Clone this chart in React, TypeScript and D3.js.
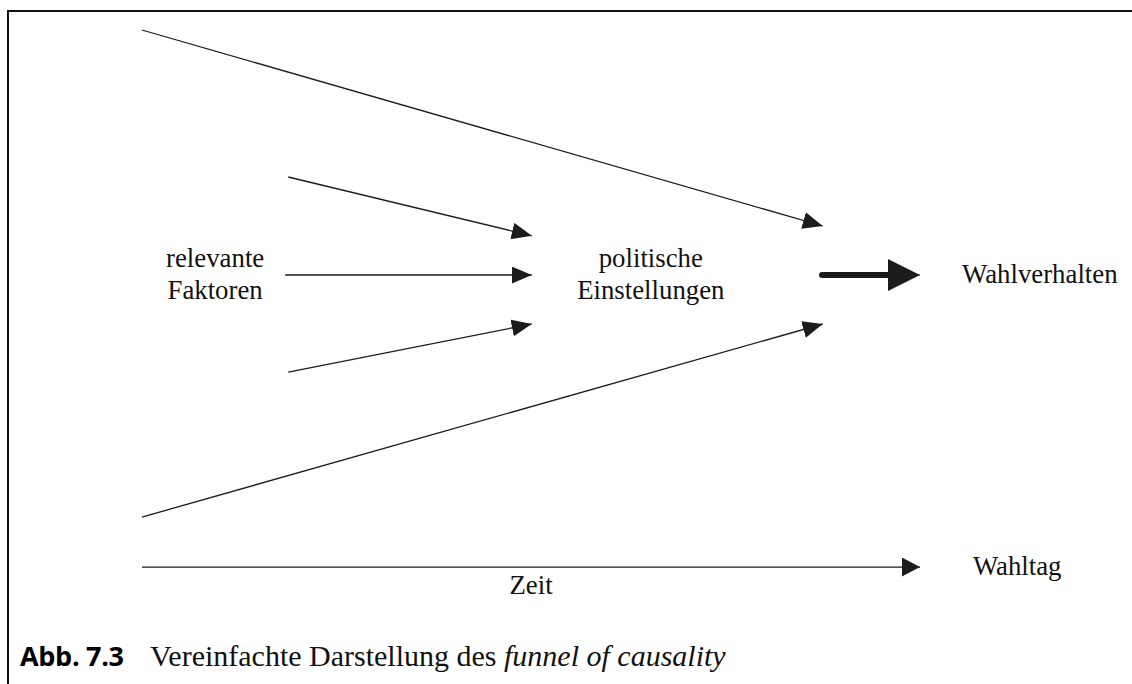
import React from 'react';
import * as d3 from 'd3';

// logical diagram units: x 0 = far past, 100 = election day; y 0..100 spans the funnel mouth
const funnelEdges = [
  { x0: 0, y0: 0, x1: 87.5, y1: 40 },
  { x0: 0, y0: 99.4, x1: 87.5, y1: 60 },
];
const factorArrows = [
  { x0: 18.8, y0: 30, x1: 50.1, y1: 42 },
  { x0: 18.4, y0: 50, x1: 50.1, y1: 50 },
  { x0: 18.8, y0: 69.8, x1: 50.1, y1: 60 },
];
const mainArrow = { x0: 87.4, y0: 50, x1: 100, y1: 50 };
const timeArrow = { x0: 0, y0: 109.6, x1: 100, y1: 109.6 };

const labels = [
  { lines: ['relevante', 'Faktoren'], x: 9.4, y: 50, anchor: 'middle' },
  { lines: ['politische', 'Einstellungen'], x: 65.4, y: 50, anchor: 'middle' },
  { lines: ['Wahlverhalten'], x: 105.4, y: 50, anchor: 'start' },
  { lines: ['Wahltag'], x: 106.8, y: 109.6, anchor: 'start' },
  { lines: ['Zeit'], x: 50, y: 113.5, anchor: 'middle' },
];

const captionNumber = 'Abb. 7.3';
const captionText = 'Vereinfachte Darstellung des ';
const captionItalic = 'funnel of causality';

const W = 1132;
const H = 684;

export default function App() {
  const x = d3.scaleLinear().domain([0, 100]).range([142, 920]);
  const y = d3.scaleLinear().domain([0, 100]).range([30, 520]);
  const line = d3.line<[number, number]>().x(d => x(d[0])).y(d => y(d[1]));
  const seg = (a: { x0: number; y0: number; x1: number; y1: number }) =>
    line([[a.x0, a.y0], [a.x1, a.y1]]) || '';

  const ink = '#1c1c1c';
  const serif = '"Liberation Serif", "Times New Roman", serif';

  return (
    <svg width={W} height={H} style={{ position: 'absolute', left: 0, top: 0, background: '#fff' }}>
      <defs>
        <marker id="thin" markerUnits="userSpaceOnUse" markerWidth={22} markerHeight={18}
          refX={20} refY={8.5} orient="auto">
          <path d="M0,0 L20,8.5 L0,17 Z" fill={ink} />
        </marker>
        <marker id="time" markerUnits="userSpaceOnUse" markerWidth={20} markerHeight={20}
          refX={18} refY={9.5} orient="auto">
          <path d="M0,0 L18,9.5 L0,19 Z" fill={ink} />
        </marker>
        <marker id="thick" markerUnits="userSpaceOnUse" markerWidth={34} markerHeight={34}
          refX={32} refY={16} orient="auto">
          <path d="M0,0 L32,16 L0,32 Z" fill={ink} />
        </marker>
      </defs>

      {/* frame */}
      <path d={`M8,${H} L8,11 L${W},11`} fill="none" stroke="#111" strokeWidth={2} />

      {funnelEdges.concat(factorArrows).map((a, i) => (
        <path key={i} d={seg(a)} stroke={ink} strokeWidth={1.3} fill="none" markerEnd="url(#thin)" />
      ))}

      <path d={line([[mainArrow.x0, mainArrow.y0], [mainArrow.x1 - 3.6, mainArrow.y1]]) || ''}
        stroke={ink} strokeWidth={6} strokeLinecap="round" fill="none" />
      <path d={line([[mainArrow.x1 - 4.2, mainArrow.y1], [mainArrow.x1, mainArrow.y1]]) || ''}
        stroke={ink} strokeWidth={1} fill="none" markerEnd="url(#thick)" />

      <path d={seg(timeArrow)} stroke={ink} strokeWidth={1.3} fill="none" markerEnd="url(#time)" />

      {labels.map((l, i) => {
        const lh = 32;
        const top = y(l.y) - ((l.lines.length - 1) * lh) / 2 + 8;
        return (
          <text key={i} x={x(l.x)} y={top} textAnchor={l.anchor as any}
            fontFamily={serif} fontSize={26.8} fill="#111">
            {l.lines.map((t, j) => (
              <tspan key={j} x={x(l.x)} y={top + j * lh}>{t}</tspan>
            ))}
          </text>
        );
      })}

      <text x={20} y={666} fontFamily='"Open Sans", "Noto Sans", sans-serif' fontWeight={700}
        fontSize={27} letterSpacing={-0.3} fill="#000">{captionNumber}</text>
      <text x={150} y={666} fontFamily={serif} fontSize={30} fill="#111">
        {captionText}
        <tspan fontStyle="italic">{captionItalic}</tspan>
      </text>
    </svg>
  );
}
